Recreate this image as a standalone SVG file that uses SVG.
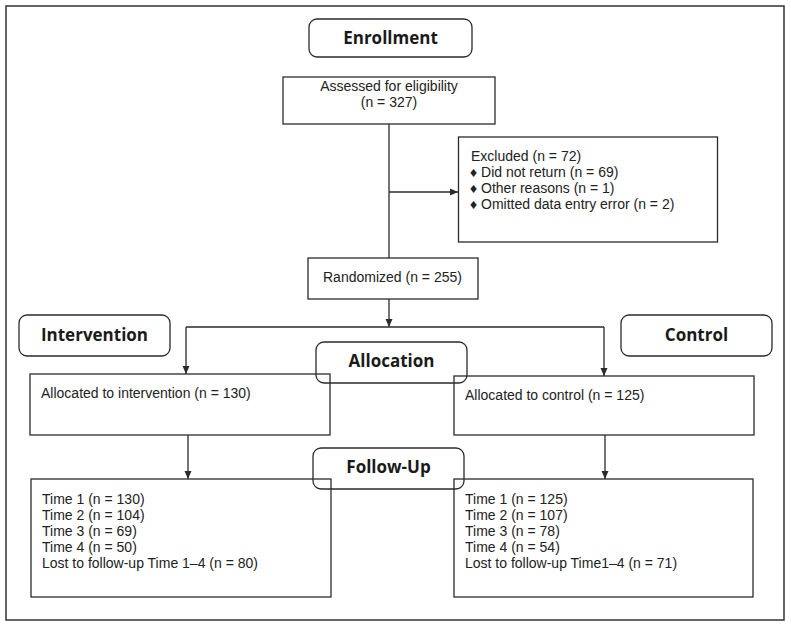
<svg xmlns="http://www.w3.org/2000/svg" width="791" height="626" viewBox="0 0 791 626">
<style>
.box{fill:none;stroke:#2b2b2b;stroke-width:1.3}
.rbox{fill:none;stroke:#2b2b2b;stroke-width:1.3}
.t{font-family:"Liberation Sans",Arial,sans-serif;font-size:14px;fill:#222}
.h{font-family:"Open Sans","Noto Sans",sans-serif;font-weight:bold;font-size:17px;fill:#1a1a1a;text-anchor:middle}
.c{text-anchor:middle}
.ln{fill:none;stroke:#2b2b2b;stroke-width:1.3}
</style>
<defs>
<marker id="arr" markerWidth="8" markerHeight="8" refX="8" refY="4" orient="auto" markerUnits="userSpaceOnUse">
<path d="M0,0.5 L8,4 L0,7.5 Z" fill="#2b2b2b"/>
</marker>
</defs>
<rect x="6" y="6" width="778" height="614" fill="#fff" stroke="#333" stroke-width="1.5"/>
<g id="connectors">
<path class="ln" d="M389,124 V258"/>
<path class="ln" d="M389,192 H458" marker-end="url(#arr)"/>
<path class="ln" d="M389,299 V327" marker-end="url(#arr)"/>
<path class="ln" d="M186,327 H604"/>
<path class="ln" d="M186,327 V374" marker-end="url(#arr)"/>
<path class="ln" d="M604,327 V376" marker-end="url(#arr)"/>
<path class="ln" d="M188,435 V479" marker-end="url(#arr)"/>
<path class="ln" d="M605,435 V479" marker-end="url(#arr)"/>
</g>
<g id="enrollment">
<rect class="rbox" x="309" y="19" width="163" height="38" rx="8"/>
<text class="h" x="390.5" y="44">Enrollment</text>
</g>
<g id="assessed">
<rect class="box" x="283" y="77" width="212" height="47"/>
<text class="t c" x="389" y="91">Assessed for eligibility</text>
<text class="t c" x="389" y="107">(n = 327)</text>
</g>
<g id="excluded">
<rect class="box" x="458.5" y="137" width="259" height="105"/>
<text class="t" x="471" y="161">Excluded (n = 72)</text>
<text class="t" x="470" y="177">♦ Did not return (n = 69)</text>
<text class="t" x="470" y="193">♦ Other reasons (n = 1)</text>
<text class="t" x="470" y="209">♦ Omitted data entry error (n = 2)</text>
</g>
<g id="randomized">
<rect class="box" x="308" y="258" width="170" height="41"/>
<text class="t" x="323" y="282">Randomized (n = 255)</text>
</g>
<g id="intervention">
<rect class="rbox" x="19" y="315" width="151" height="41" rx="8"/>
<text class="h" x="94.5" y="341">Intervention</text>
</g>
<g id="control">
<rect class="rbox" x="621" y="315" width="151" height="41" rx="8"/>
<text class="h" x="696.5" y="341">Control</text>
</g>
<g id="allocation">
<rect class="rbox" x="316" y="342" width="151" height="41" rx="8"/>
<text class="h" x="391.5" y="367">Allocation</text>
</g>
<g id="alloc-intervention">
<rect class="box" x="30" y="374" width="300" height="61"/>
<text class="t" x="41" y="398">Allocated to intervention (n = 130)</text>
</g>
<g id="alloc-control">
<rect class="box" x="454" y="376" width="300" height="59"/>
<text class="t" x="465" y="400">Allocated to control (n = 125)</text>
</g>
<g id="followup">
<rect class="rbox" x="313" y="448" width="151" height="41" rx="8"/>
<text class="h" x="388.5" y="473">Follow-Up</text>
</g>
<g id="fu-intervention">
<rect class="box" x="31" y="479" width="300" height="118"/>
<text class="t" x="42" y="504">Time 1 (n = 130)</text>
<text class="t" x="42" y="520">Time 2 (n = 104)</text>
<text class="t" x="42" y="536">Time 3 (n = 69)</text>
<text class="t" x="42" y="552">Time 4 (n = 50)</text>
<text class="t" x="42" y="568">Lost to follow-up Time 1–4 (n = 80)</text>
</g>
<g id="fu-control">
<rect class="box" x="454" y="479" width="299" height="118"/>
<text class="t" x="465" y="504">Time 1 (n = 125)</text>
<text class="t" x="465" y="520">Time 2 (n = 107)</text>
<text class="t" x="465" y="536">Time 3 (n = 78)</text>
<text class="t" x="465" y="552">Time 4 (n = 54)</text>
<text class="t" x="465" y="568">Lost to follow-up Time1–4 (n = 71)</text>
</g>
</svg>
